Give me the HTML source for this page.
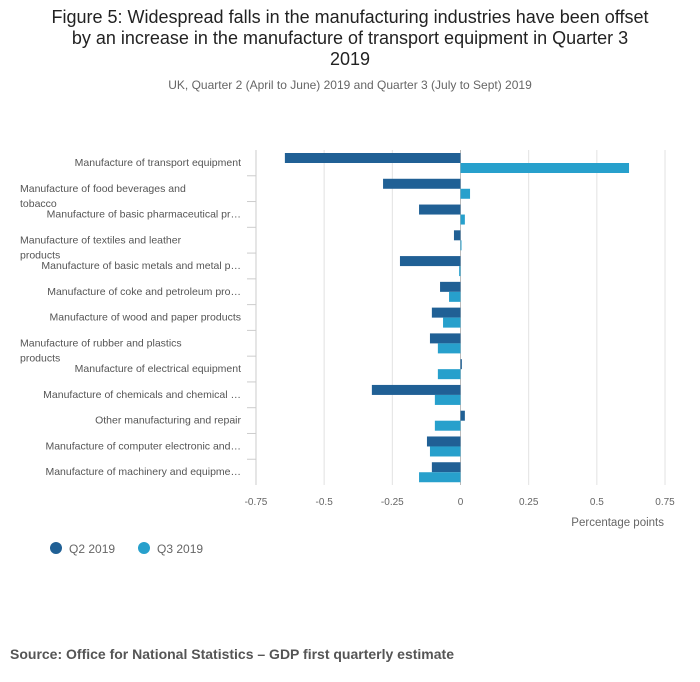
<!DOCTYPE html>
<html><head><meta charset="utf-8"><style>
body{margin:0;background:#fff;font-family:"Liberation Sans",sans-serif;}
#wrap{position:relative;width:700px;height:682px;overflow:hidden;}
.t{position:absolute;left:0;width:700px;text-align:center;}
</style></head><body>
<div id="wrap">
<div class="t" style="top:7px;font-size:18px;line-height:21px;color:#222;">Figure 5: Widespread falls in the manufacturing industries have been offset<br>by an increase in the manufacture of transport equipment in Quarter 3<br>2019</div>
<div class="t" style="top:78px;font-size:12px;color:#666;">UK, Quarter 2 (April to June) 2019 and Quarter 3 (July to Sept) 2019</div>
<svg id="c" width="700" height="682" style="position:absolute;left:0;top:0"></svg>
<div style="position:absolute;left:10px;top:646px;font-size:14px;font-weight:bold;color:#555;">Source: Office for National Statistics – GDP first quarterly estimate</div>
</div>
<script>
const categories=["Manufacture of transport equipment","Manufacture of food beverages and|tobacco","Manufacture of basic pharmaceutical pr…","Manufacture of textiles and leather|products","Manufacture of basic metals and metal p…","Manufacture of coke and petroleum pro…","Manufacture of wood and paper products","Manufacture of rubber and plastics|products","Manufacture of electrical equipment","Manufacture of chemicals and chemical …","Other manufacturing and repair","Manufacture of computer electronic and…","Manufacture of machinery and equipme…"];
const q2=[-0.644,-0.284,-0.152,-0.024,-0.222,-0.075,-0.105,-0.112,0.005,-0.325,0.016,-0.123,-0.105];
const q3=[0.618,0.035,0.016,0.003,-0.005,-0.042,-0.064,-0.083,-0.083,-0.094,-0.094,-0.112,-0.152];
const ticks=[-0.75,-0.5,-0.25,0,0.25,0.5,0.75];
const tickLabels=["-0.75","-0.5","-0.25","0","0.25","0.5","0.75"];
const svg=document.getElementById('c');const NS='http://www.w3.org/2000/svg';
const x=v=>460.5+v*272.7;const top0=150,pitch=25.77;
function mk(t,a,p){const e=document.createElementNS(NS,t);for(const k in a)e.setAttribute(k,a[k]);(p||svg).appendChild(e);return e;}
ticks.forEach((v,i)=>{
 const g=mk('line',{x1:x(v),x2:x(v),y1:top0,y2:top0+pitch*13,stroke:v===0?'#bbb':'#e2e2e2'});
 
 
 const t=mk('text',{x:x(v),y:505,'text-anchor':'middle','font-size':10,fill:'#666'});t.textContent=tickLabels[i];
 
 
});
const ax=mk('line',{x1:256,x2:256,y1:top0,y2:top0+pitch*13,stroke:'#ccc'});


categories.forEach((c,i)=>{
 const y0=top0+pitch*i;
 if(i>0){const tk=mk('line',{x1:247,x2:256,y1:y0,y2:y0,stroke:'#ccc'});
 
 }
 const lines=c.split('|');
 lines.forEach((l,j)=>{
  const multi=lines.length>1;
  const t=mk('text',{x:multi?20:241,y:y0+(multi?16+j*15:16),'text-anchor':multi?'start':'end','font-size':10.5,fill:'#555'});
  t.textContent=l;
  
  
 });
 [[q2[i],3,'#206095','bar-q2'],[q3[i],13,'#27a0cc','bar-q3']].forEach(([v,off,col,nm])=>{
  const r=mk('rect',{x:Math.min(x(0),x(v)),y:y0+off,width:Math.max(1,Math.abs(x(v)-x(0))),height:10,fill:col});
  
  
 });
});
const xt=mk('text',{x:664,y:526,'text-anchor':'end','font-size':11.5,fill:'#666'});xt.textContent='Percentage points';


[['Q2 2019',56,'#206095'],['Q3 2019',144,'#27a0cc']].forEach(([t,cx,col])=>{
 const g=mk('g',{});
 
 
 mk('circle',{cx:cx,cy:548,r:6,fill:col},g);
 const tt=mk('text',{x:cx+13,y:553,'font-size':12,fill:'#666'},g);tt.textContent=t;
});
</script>
</body></html>
